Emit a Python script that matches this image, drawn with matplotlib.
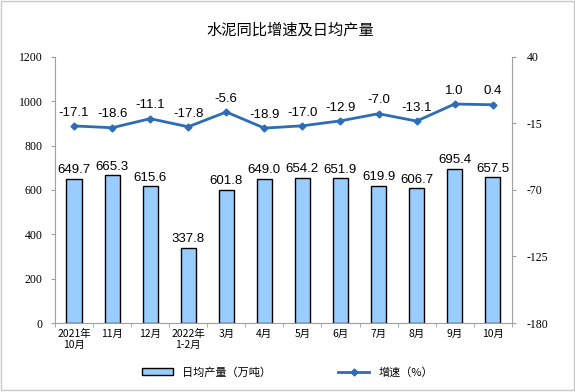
import matplotlib
matplotlib.use("Agg")
import matplotlib.pyplot as plt
from matplotlib.patches import Rectangle

categories = ["2021年\n10月", "11月", "12月", "2022年\n1-2月", "3月", "4月", "5月", "6月", "7月", "8月", "9月", "10月"]
output = [649.7, 665.3, 615.6, 337.8, 601.8, 649.0, 654.2, 651.9, 619.9, 606.7, 695.4, 657.5]
growth = [-17.1, -18.6, -11.1, -17.8, -5.6, -18.9, -17.0, -12.9, -7.0, -13.1, 1.0, 0.4]
left_ticks = [0, 200, 400, 600, 800, 1000, 1200]
right_ticks = [-180, -125, -70, -15, 40]

CJK = ["Noto Sans CJK SC", "DejaVu Sans"]
SERIF = ["Liberation Serif", "DejaVu Serif"]
SANS = ["Liberation Sans", "DejaVu Sans"]
plt.rcParams['font.family'] = CJK

fig = plt.figure(figsize=(5.75, 3.92), dpi=100)
fig.patches.append(Rectangle((0.002, 0.004), 0.996, 0.993, transform=fig.transFigure,
                             fill=False, edgecolor="#c8c8c8", linewidth=1))
ax = fig.add_axes([0.0957, 0.176, 0.7943, 0.679])
x = list(range(len(categories)))
bars = ax.bar(x, output, width=0.4, color="#99CCFF", edgecolor="black", linewidth=1.0,
              label="日均产量（万吨）", zorder=2)
ax.set_ylim(0, 1200)
ax.set_xlim(-0.5, len(categories) - 0.5)
ax.set_yticks(left_ticks)
ax.set_yticklabels([str(t) for t in left_ticks], fontfamily=SERIF, fontsize=8.5)
ax.set_xticks(x)
ax.set_xticklabels(categories, fontsize=7.5, linespacing=1.2)
ax.set_xticks([i + 0.5 for i in range(-1, len(categories))], minor=True)
ax.tick_params(axis='x', which='major', length=0, pad=4)
ax.tick_params(axis='x', which='minor', length=3, color="#a0a0a0")
ax.tick_params(axis='y', length=3, color="#a0a0a0", pad=6)
for s in ["top", "right"]:
    ax.spines[s].set_visible(False)
for s in ["left", "bottom"]:
    ax.spines[s].set_color("#a0a0a0")
for xi, v in zip(x, output):
    ax.text(xi, v + 12, f"{v:.1f}", ha="center", va="bottom", fontsize=9.5, fontfamily=SANS)

ax2 = ax.twinx()
ln, = ax2.plot(x, growth, color="#2E6DB4", linewidth=2, marker="D", markersize=3.5,
               label="增速（%）", zorder=3)
ax2.set_ylim(-180, 40)
ax2.set_yticks(right_ticks)
ax2.set_yticklabels([str(t) for t in right_ticks], fontfamily=SERIF, fontsize=8.5)
ax2.tick_params(axis='y', length=3, color="#a0a0a0", pad=8)
for s in ["top", "left", "bottom"]:
    ax2.spines[s].set_visible(False)
ax2.spines["right"].set_color("#a0a0a0")
for xi, v in zip(x, growth):
    ax2.text(xi, v + 6, f"{v:.1f}", ha="center", va="bottom", fontsize=9.5, fontfamily=SANS)

fig.text(0.505, 0.923, "水泥同比增速及日均产量", ha="center", va="center", fontsize=11)
fig.legend([bars, ln], ["日均产量（万吨）", "增速（%）"], loc="center", bbox_to_anchor=(0.5, 0.05),
           ncol=2, frameon=False, fontsize=8, columnspacing=6, handlelength=2.8, handleheight=0.6)
fig.savefig("out.png", dpi=100)
